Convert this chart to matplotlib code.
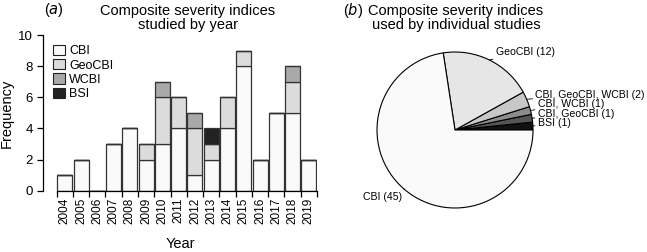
import matplotlib
matplotlib.use("Agg")
import matplotlib.pyplot as plt
import numpy as np
from matplotlib.patches import Patch

plt.rcParams['font.family'] = ['Liberation Sans', 'DejaVu Sans']

years = ['2004', '2005', '2006', '2007', '2008', '2009', '2010', '2011',
         '2012', '2013', '2014', '2015', '2016', '2017', '2018', '2019']
cbi =    [1, 2, 0, 3, 4, 2, 3, 4, 1, 2, 4, 8, 2, 5, 5, 2]
geocbi = [0, 0, 0, 0, 0, 1, 3, 2, 3, 1, 2, 1, 0, 0, 2, 0]
wcbi =   [0, 0, 0, 0, 0, 0, 1, 0, 1, 0, 0, 0, 0, 0, 1, 0]
bsi =    [0, 0, 0, 0, 0, 0, 0, 0, 0, 1, 0, 0, 0, 0, 0, 0]
series_names = ['CBI', 'GeoCBI', 'WCBI', 'BSI']
series_colors = ['#fafafa', '#dcdcdc', '#a9a9a9', '#222222']

pie_labels = ['BSI', 'CBI, GeoCBI', 'CBI, WCBI', 'CBI, GeoCBI, WCBI', 'GeoCBI', 'CBI']
pie_values = [1, 1, 1, 2, 12, 45]
pie_colors = ['#111111', '#555555', '#8c8c8c', '#c8c8c8', '#e6e6e6', '#fafafa']

W, H = 647, 252
fig = plt.figure(figsize=(W / 100, H / 100), dpi=100)

# ---- panel (a) ----
ax = fig.add_axes([43 / W, (H - 190.7) / H, (317 - 43) / W, (190.7 - 35) / H])
x = np.arange(len(years))
bottom = np.zeros(len(years))
for name, vals, col in zip(series_names, [cbi, geocbi, wcbi, bsi], series_colors):
    v = np.array(vals, dtype=float)
    ax.bar(x, v, bottom=bottom, width=0.92, color=col, edgecolor='#333333',
           linewidth=0.9, label=name)
    bottom += v
ax.set_xlim(-1.34, 15.5)
ax.set_ylim(0, 10)
ax.set_yticks([0, 2, 4, 6, 8, 10])
ax.set_xticks(x)
ax.set_xticklabels(years, rotation=90, fontsize=8.5)
ax.tick_params(axis='x', which='major', length=0, pad=5)
ax.set_xticks(np.arange(-0.5, 16, 1), minor=True)
ax.tick_params(axis='x', which='minor', length=4, width=0.9, direction='out')
ax.tick_params(axis='y', labelsize=9.5, length=4, width=0.9)
for s in ['top', 'right']:
    ax.spines[s].set_visible(False)
ax.spines['bottom'].set_bounds(-0.5, 15.5)
ax.spines['left'].set_linewidth(0.9)
ax.spines['bottom'].set_linewidth(0.9)
ax.set_ylabel('Frequency', fontsize=10.5, labelpad=3)
ax.set_xlabel('Year', fontsize=10.5, labelpad=9)
handles = [Patch(facecolor=c, edgecolor='#222222', linewidth=0.8) for c in series_colors]
ax.legend(handles, series_names, loc='upper left', bbox_to_anchor=(0.02, 0.97),
          frameon=False, fontsize=9, handlelength=0.9, handleheight=0.9,
          handletextpad=0.35, labelspacing=0.15, borderaxespad=0)
fig.text(188 / W, 1 - 18 / H, 'Composite severity indices\nstudied by year',
         ha='center', va='center', fontsize=10.5, linespacing=1.0)
fig.text(44 / W, 1 - 10 / H, '($a$)', ha='left', va='center', fontsize=10.5)

# ---- panel (b) ----
cx, cy, r = 455, 130, 78
ax2 = fig.add_axes([(cx - r) / W, (H - cy - r) / H, 2 * r / W, 2 * r / H])
wedges, _ = ax2.pie(pie_values, colors=pie_colors, startangle=0, counterclock=True,
                    wedgeprops=dict(edgecolor='black', linewidth=0.8))
ax2.set_xlim(-1, 1)
ax2.set_ylim(-1, 1)
ax2.set_aspect('auto')
ax2.axis('off')

# label positions (in pie data units) for each wedge
label_pos = {
    'GeoCBI':            (0.52, 1.0, 'left'),
    'CBI, GeoCBI, WCBI': (1.03, 0.45, 'left'),
    'CBI, WCBI':         (1.06, 0.33, 'left'),
    'CBI, GeoCBI':       (1.06, 0.205, 'left'),
    'BSI':               (1.06, 0.09, 'left'),
    'CBI':               (-0.68, -0.86, 'right'),
}
for w, lab, val in zip(wedges, pie_labels, pie_values):
    ang = np.deg2rad((w.theta1 + w.theta2) / 2)
    px, py = np.cos(ang), np.sin(ang)
    tx, ty, ha = label_pos[lab]
    ax2.annotate(f'{lab} ({val})', xy=(px, py), xytext=(tx, ty), ha=ha, va='center',
                 fontsize=7.6, annotation_clip=False,
                 arrowprops=dict(arrowstyle='-', lw=0.6, color='black',
                                 shrinkA=0, shrinkB=0))
fig.text(343 / W, 1 - 10 / H, '($b$)', ha='left', va='center', fontsize=10.5)
fig.text(456 / W, 1 - 18 / H, 'Composite severity indices\nused by individual studies',
         ha='center', va='center', fontsize=10.5, linespacing=1.0)

fig.savefig('out.png', dpi=100)
